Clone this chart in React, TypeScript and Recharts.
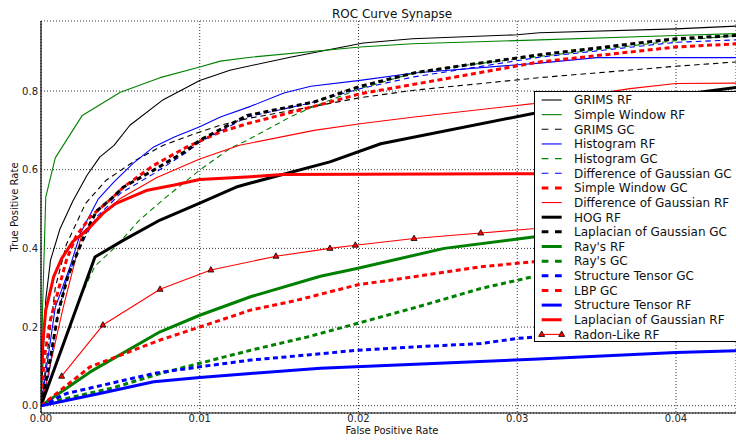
import { LineChart, Line, XAxis, YAxis, CartesianGrid } from "recharts";

type Pt = [number, number];

// ROC points: [false positive rate, true positive rate]
const grimsRf: Pt[] = [[0, 0], [0.0003, 0.27], [0.0006, 0.37], [0.0012, 0.45], [0.002, 0.52], [0.0029, 0.586], [0.0037, 0.632], [0.0046, 0.662], [0.0056, 0.713], [0.0077, 0.778], [0.01, 0.827], [0.0119, 0.853], [0.0157, 0.886], [0.0203, 0.922], [0.0234, 0.933], [0.03, 0.943], [0.0314, 0.948], [0.04, 0.958], [0.0438, 0.965]];
const simpleWindowRf: Pt[] = [[0, 0], [0.0001, 0.25], [0.0003, 0.53], [0.0009, 0.63], [0.0026, 0.738], [0.005, 0.797], [0.0075, 0.834], [0.01, 0.861], [0.0113, 0.876], [0.0132, 0.886], [0.0201, 0.912], [0.0234, 0.92], [0.0314, 0.93], [0.04, 0.941], [0.0438, 0.946]];
const grimsGc: Pt[] = [[0, 0], [0.0009, 0.3], [0.0016, 0.41], [0.0023, 0.47], [0.0028, 0.514], [0.0041, 0.573], [0.006, 0.625], [0.0077, 0.662], [0.01, 0.696], [0.0113, 0.713], [0.013, 0.73], [0.0172, 0.761], [0.0201, 0.783], [0.0235, 0.802], [0.0314, 0.834], [0.04, 0.863], [0.0438, 0.874]];
const histogramRf: Pt[] = [[0, 0], [0.0009, 0.25], [0.0018, 0.35], [0.0025, 0.44], [0.0036, 0.525], [0.0046, 0.569], [0.0058, 0.616], [0.0071, 0.658], [0.0084, 0.683], [0.01, 0.709], [0.0113, 0.734], [0.0132, 0.761], [0.0153, 0.795], [0.017, 0.812], [0.0201, 0.827], [0.0235, 0.846], [0.0314, 0.871], [0.035, 0.885], [0.0438, 0.885]];
const histogramGc: Pt[] = [[0, 0], [0.0023, 0.26], [0.0034, 0.355], [0.0047, 0.404], [0.0062, 0.472], [0.0079, 0.531], [0.01, 0.599], [0.0119, 0.654], [0.013, 0.675], [0.0157, 0.734], [0.0172, 0.761], [0.0201, 0.806], [0.0235, 0.846], [0.0266, 0.865], [0.0314, 0.888], [0.04, 0.928], [0.0438, 0.941]];
const dogGc: Pt[] = [[0, 0], [0.0005, 0.08], [0.001, 0.22], [0.0016, 0.32], [0.0022, 0.38], [0.0028, 0.43], [0.0035, 0.48], [0.0044, 0.515], [0.005, 0.54], [0.0071, 0.59], [0.0092, 0.645], [0.01, 0.67], [0.013, 0.734], [0.0168, 0.768], [0.0201, 0.806], [0.0235, 0.836], [0.0314, 0.886], [0.04, 0.924], [0.0438, 0.93]];
const simpleWindowGc: Pt[] = [[0, 0], [0.0002, 0.12], [0.0006, 0.22], [0.001, 0.28], [0.0016, 0.37], [0.0022, 0.43], [0.0031, 0.48], [0.0044, 0.525], [0.0052, 0.556], [0.0071, 0.611], [0.0092, 0.658], [0.0113, 0.696], [0.013, 0.717], [0.0172, 0.761], [0.0201, 0.793], [0.0235, 0.817], [0.0314, 0.874], [0.04, 0.912], [0.0438, 0.92]];
const dogRf: Pt[] = [[0, 0], [0.0014, 0.25], [0.0026, 0.44], [0.0037, 0.48], [0.005, 0.527], [0.0073, 0.58], [0.01, 0.627], [0.0125, 0.662], [0.0172, 0.7], [0.0201, 0.717], [0.0235, 0.734], [0.031, 0.768], [0.0371, 0.806], [0.04, 0.819], [0.0438, 0.82]];
const hogRf: Pt[] = [[0, 0], [0.0034, 0.378], [0.0052, 0.421], [0.0075, 0.472], [0.01, 0.515], [0.0123, 0.556], [0.0132, 0.566], [0.0182, 0.62], [0.0214, 0.666], [0.031, 0.743], [0.04, 0.789], [0.0438, 0.809]];
const logGc: Pt[] = [[0, 0], [0.0005, 0.1], [0.0011, 0.24], [0.0017, 0.33], [0.0023, 0.39], [0.0028, 0.44], [0.0035, 0.495], [0.0044, 0.525], [0.0052, 0.556], [0.0071, 0.599], [0.0092, 0.649], [0.01, 0.675], [0.013, 0.738], [0.0172, 0.772], [0.0201, 0.812], [0.0235, 0.846], [0.0266, 0.865], [0.0314, 0.892], [0.04, 0.933], [0.0438, 0.941]];
const raysRf: Pt[] = [[0, 0], [0.0031, 0.086], [0.0075, 0.188], [0.01, 0.23], [0.0132, 0.277], [0.0176, 0.329], [0.0199, 0.349], [0.0254, 0.4], [0.031, 0.429], [0.0438, 0.47]];
const raysGc: Pt[] = [[0, 0], [0.0012, 0.015], [0.0045, 0.045], [0.0075, 0.082], [0.01, 0.108], [0.0132, 0.141], [0.0168, 0.175], [0.0199, 0.209], [0.0237, 0.251], [0.0277, 0.298], [0.031, 0.328], [0.0438, 0.41]];
const structTensorGc: Pt[] = [[0, 0], [0.0016, 0.031], [0.0071, 0.082], [0.01, 0.099], [0.0132, 0.116], [0.0168, 0.129], [0.0199, 0.141], [0.0237, 0.15], [0.0277, 0.158], [0.03, 0.171], [0.031, 0.174], [0.0438, 0.19]];
const lbpGc: Pt[] = [[0, 0], [0.0031, 0.099], [0.0075, 0.167], [0.01, 0.2], [0.0132, 0.243], [0.0161, 0.268], [0.0199, 0.307], [0.0235, 0.328], [0.0277, 0.353], [0.031, 0.366], [0.0438, 0.4]];
const structTensorRf: Pt[] = [[0, 0], [0.0037, 0.031], [0.0071, 0.061], [0.01, 0.072], [0.0132, 0.082], [0.0176, 0.095], [0.031, 0.118], [0.04, 0.135], [0.0438, 0.14]];
const logRf: Pt[] = [[0, 0.108], [0.0003, 0.243], [0.0008, 0.328], [0.0013, 0.374], [0.002, 0.417], [0.0029, 0.446], [0.0039, 0.489], [0.0047, 0.514], [0.0067, 0.548], [0.0084, 0.561], [0.01, 0.575], [0.0132, 0.582], [0.0152, 0.588], [0.031, 0.59], [0.0438, 0.592]];
const radonRf: Pt[] = [[0.0013, 0.075], [0.0039, 0.205], [0.0075, 0.296], [0.0107, 0.345], [0.0148, 0.38], [0.0182, 0.4], [0.0198, 0.408], [0.0235, 0.425], [0.0277, 0.439], [0.0325, 0.455], [0.037, 0.47], [0.0425, 0.48]];

const xTicks = [0, 0.01, 0.02, 0.03, 0.04];
const yTicks = [0, 0.2, 0.4, 0.6, 0.8];
const X_DOMAIN: [number, number] = [0, 0.04378];
const Y_DOMAIN: [number, number] = [-0.0185, 0.978];

const BLACK = "#000000";
const GREEN = "#008000";
const BLUE = "#0000ff";
const RED = "#ff0000";
const THIN = 1.1;
const THICK = 3;
const THIN_DASH = "5.5 4";
const THICK_DASH = "5 3.5";

type Series = {
  name: string;
  points: Pt[];
  color: string;
  width: number;
  dash?: string;
  marker?: boolean;
};

// same order as the legend (and drawing order)
const series: Series[] = [
  { name: "GRIMS RF", points: grimsRf, color: BLACK, width: THIN },
  { name: "Simple Window RF", points: simpleWindowRf, color: GREEN, width: THIN },
  { name: "GRIMS GC", points: grimsGc, color: BLACK, width: THIN, dash: THIN_DASH },
  { name: "Histogram RF", points: histogramRf, color: BLUE, width: THIN },
  { name: "Histogram GC", points: histogramGc, color: GREEN, width: THIN, dash: THIN_DASH },
  { name: "Difference of Gaussian GC", points: dogGc, color: BLUE, width: THIN, dash: THIN_DASH },
  { name: "Simple Window GC", points: simpleWindowGc, color: RED, width: THICK, dash: THICK_DASH },
  { name: "Difference of Gaussian RF", points: dogRf, color: RED, width: THIN },
  { name: "HOG RF", points: hogRf, color: BLACK, width: THICK },
  { name: "Laplacian of Gaussian GC", points: logGc, color: BLACK, width: THICK, dash: THICK_DASH },
  { name: "Ray's RF", points: raysRf, color: GREEN, width: THICK },
  { name: "Ray's GC", points: raysGc, color: GREEN, width: THICK, dash: THICK_DASH },
  { name: "Structure Tensor GC", points: structTensorGc, color: BLUE, width: THICK, dash: THICK_DASH },
  { name: "LBP GC", points: lbpGc, color: RED, width: THICK, dash: THICK_DASH },
  { name: "Structure Tensor RF", points: structTensorRf, color: BLUE, width: THICK },
  { name: "Laplacian of Gaussian RF", points: logRf, color: RED, width: THICK },
  { name: "Radon-Like RF", points: radonRf, color: RED, width: THIN, marker: true },
];

const minorY: number[] = [];
for (let v = 0; v < 0.975; v += 0.0075) minorY.push(+v.toFixed(4));

const FONT = "DejaVu Sans, sans-serif";

const triPath = (cx: number, cy: number) =>
  `M${cx},${cy - 3.4} L${cx + 3},${cy + 2} L${cx - 3},${cy + 2} Z`;

const Triangle = (p: any) => {
  if (p.cx == null || p.cy == null) return <g key={`t-${p.index}`} />;
  return (
    <path
      key={`t-${p.index}`}
      d={triPath(p.cx, p.cy)}
      fill={RED}
      stroke={BLACK}
      strokeWidth={0.8}
    />
  );
};

const LEG_X = 534.5;
const LEG_Y = 91.5;
const LEG_ROW = 14.65;

export default function App() {
  return (
    <div
      style={{
        position: "absolute",
        left: 0,
        top: 0,
        width: 736,
        height: 440,
        overflow: "hidden",
        background: "#fff",
        fontFamily: FONT,
      }}
    >
      <LineChart width={736} height={440} margin={{ top: 21, right: 0, bottom: 0, left: 0 }}>
        <CartesianGrid stroke={BLACK} strokeDasharray="1 2" strokeWidth={0.8} />
        <XAxis
          dataKey="x"
          type="number"
          domain={X_DOMAIN}
          allowDataOverflow
          ticks={xTicks}
          tickFormatter={(v: number) => v.toFixed(2)}
          height={27}
          tickLine={false}
          tickSize={0}
          tickMargin={2}
          axisLine={{ stroke: BLACK, strokeWidth: 1.2 }}
          tick={{ fontSize: 10, fill: "#222", fontFamily: FONT }}
          interval={0}
        />
        <XAxis
          xAxisId="top"
          type="number"
          orientation="top"
          domain={X_DOMAIN}
          allowDataOverflow
          height={0}
          tick={false}
          tickLine={false}
          axisLine={{ stroke: BLACK, strokeWidth: 1.2 }}
        />
        <XAxis
          xAxisId="tk"
          type="number"
          domain={X_DOMAIN}
          allowDataOverflow
          ticks={xTicks}
          mirror
          height={0}
          tick={false}
          tickSize={4}
          tickLine={{ stroke: BLACK }}
          axisLine={false}
          interval={0}
        />
        <YAxis
          type="number"
          domain={Y_DOMAIN}
          allowDataOverflow
          ticks={yTicks}
          tickFormatter={(v: number) => v.toFixed(1)}
          width={41}
          tickLine={false}
          tickSize={0}
          tickMargin={3}
          axisLine={{ stroke: BLACK, strokeWidth: 1.2 }}
          tick={{ fontSize: 10, fill: "#222", fontFamily: FONT }}
          interval={0}
        />
        <YAxis
          yAxisId="tk"
          type="number"
          domain={Y_DOMAIN}
          allowDataOverflow
          ticks={yTicks}
          mirror
          width={0}
          tick={false}
          tickSize={4}
          tickLine={{ stroke: BLACK }}
          axisLine={false}
          interval={0}
        />
        <YAxis
          yAxisId="minor"
          type="number"
          domain={Y_DOMAIN}
          allowDataOverflow
          ticks={minorY}
          mirror
          width={0}
          tick={false}
          tickSize={2}
          tickLine={{ stroke: "#555", strokeWidth: 0.7 }}
          axisLine={false}
          interval={0}
        />
        {series.map((s) => (
          <Line
            key={s.name}
            name={s.name}
            data={s.points.map(([x, y]) => ({ x, y }))}
            dataKey="y"
            type="linear"
            stroke={s.color}
            strokeWidth={s.width}
            strokeDasharray={s.dash}
            strokeLinejoin="round"
            dot={s.marker ? Triangle : false}
            activeDot={false}
            isAnimationActive={false}
          />
        ))}
      </LineChart>

      <svg
        width={736}
        height={440}
        style={{ position: "absolute", left: 0, top: 0, pointerEvents: "none" }}
        fontFamily={FONT}
      >
        <text x={392} y={18} fontSize={12} textAnchor="middle" fill="#111">
          ROC Curve Synapse
        </text>
        <text x={392} y={433.5} fontSize={10} textAnchor="middle" fill="#111">
          False Positive Rate
        </text>
        <text
          x={18}
          y={207}
          fontSize={10}
          textAnchor="middle"
          fill="#111"
          transform="rotate(-90 18 207)"
        >
          True Positive Rate
        </text>

        <rect x={LEG_X} y={LEG_Y} width={230} height={250} fill="#fff" stroke={BLACK} strokeWidth={1} />
        {series.map((s, i) => {
          const cy = 100 + i * LEG_ROW;
          return (
            <g key={s.name}>
              <line
                x1={541.7}
                x2={561.7}
                y1={cy}
                y2={cy}
                stroke={s.color}
                strokeWidth={s.width}
                strokeDasharray={s.dash ? "6.7 6.6" : undefined}
              />
              {s.marker && (
                <>
                  <path d={triPath(541.7, cy)} fill={RED} stroke={BLACK} strokeWidth={0.8} />
                  <path d={triPath(561.7, cy)} fill={RED} stroke={BLACK} strokeWidth={0.8} />
                </>
              )}
              <text x={574} y={cy + 4.3} fontSize={12} fill="#111">
                {s.name}
              </text>
            </g>
          );
        })}
      </svg>
    </div>
  );
}
